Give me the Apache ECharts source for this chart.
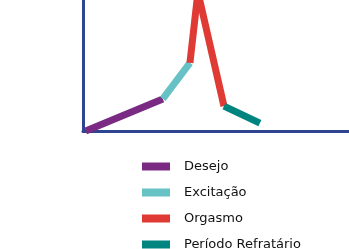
<!DOCTYPE html>
<html><head><meta charset="utf-8">
<script src="https://cdn.jsdelivr.net/npm/echarts@6/dist/echarts.min.js"></script>
<style>html,body{margin:0;padding:0;background:#fff}#c{width:349px;height:249px}</style>
</head><body><div id="c"></div>
<script>
const seriesNames = ['Desejo', 'Excitação', 'Orgasmo', 'Período Refratário'];
const desejo = [[1, 0], [30, 24.5]];
const excitacao = [[30, 24.5], [40.2, 52]];
const orgasmo = [[40.2, 52], [43.2, 106], [53, 19]];
const refratario = [[53, 19], [66.5, 6]];
const colors = ['#7b2a83', '#66c2c4', '#e03a35', '#00847f'];
const dataSets = [desejo, excitacao, orgasmo, refratario];
const legendTops = [160, 186, 212, 238];

const chart = echarts.init(document.getElementById('c'), null, {renderer: 'canvas'});
chart.setOption({
  animation: false,
  grid: {left: 83, right: 0, top: 0, bottom: 118, containLabel: false},
  xAxis: {type: 'value', min: 0, max: 100,
    axisLine: {show: true, lineStyle: {color: '#2e4591', width: 3}},
    axisTick: {show: false}, axisLabel: {show: false}, splitLine: {show: false}},
  yAxis: {type: 'value', min: 0, max: 100,
    axisLine: {show: true, lineStyle: {color: '#2e4591', width: 3}},
    axisTick: {show: false}, axisLabel: {show: false}, splitLine: {show: false}},
  legend: seriesNames.map((n, i) => ({
    orient: 'vertical', left: 142, top: legendTops[i], itemWidth: 28, itemHeight: 8,
    icon: 'rect', padding: 0,
    textStyle: {fontFamily: 'DejaVu Sans', fontSize: 13, color: '#111', padding: [0, 0, 0, 9]},
    data: [n]
  })),
  series: dataSets.map((d, i) => ({
    name: seriesNames[i], type: 'line', data: d, symbol: 'none', clip: false,
    itemStyle: {color: colors[i]},
    lineStyle: {color: colors[i], width: 7, cap: 'butt', join: 'miter'}
  }))
});
</script></body></html>
